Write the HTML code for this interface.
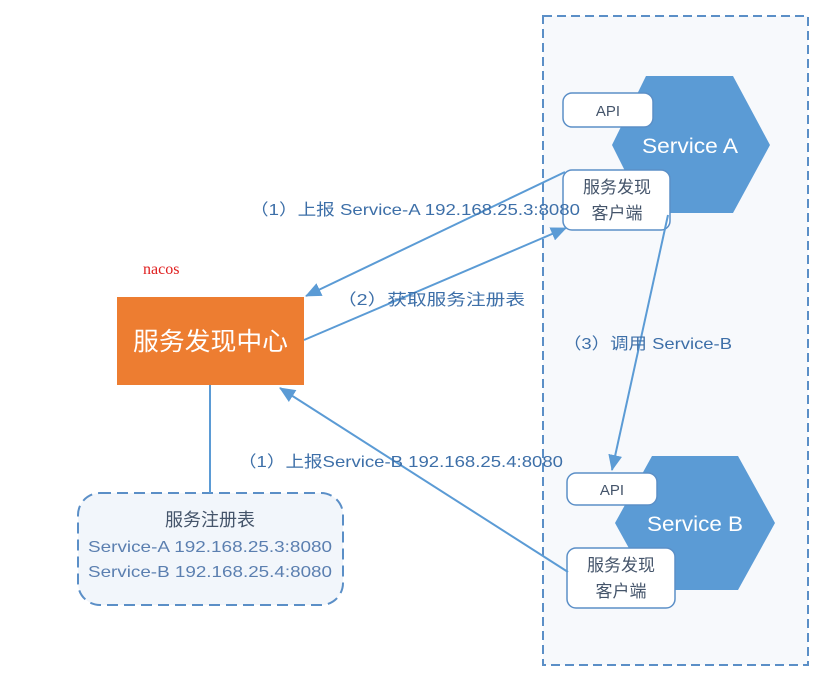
<!DOCTYPE html>
<html><head><meta charset="utf-8"><style>body{margin:0;background:#fff}svg{display:block}text{font-family:"Liberation Sans","Noto Sans CJK SC",sans-serif}</style></head><body>
<svg width="827" height="697" viewBox="0 0 827 697" xmlns="http://www.w3.org/2000/svg">
<defs>
<marker id="a2" markerWidth="16" markerHeight="14" refX="15" refY="7" orient="auto" markerUnits="userSpaceOnUse" viewBox="0 0 16 14"><path d="M0,0 L16,7 L0,14 z" fill="#5b9bd5"/></marker>
</defs>
<rect x="543" y="16" width="265" height="649" fill="#f7f9fc" stroke="#5b8fc7" stroke-width="2" stroke-dasharray="9,5"/>
<polygon points="612,145 646,76 733,76 770,145 733,213 646,213" fill="#5b9bd5"/>
<text x="642" y="153" font-size="21" fill="#fff" textLength="96" lengthAdjust="spacingAndGlyphs">Service A</text>
<rect x="563" y="93" width="90" height="34" rx="9" fill="#fff" stroke="#5b8fc7" stroke-width="1.5"/>
<text x="608" y="116" font-size="15" fill="#44546a" text-anchor="middle">API</text>
<rect x="563" y="170" width="107" height="60" rx="9" fill="#fff" stroke="#5b8fc7" stroke-width="1.5"/>
<text x="617" y="193" font-size="17" fill="#44546a" text-anchor="middle">服务发现</text>
<text x="617" y="219" font-size="17" fill="#44546a" text-anchor="middle">客户端</text>
<polygon points="615,523 652,456 738,456 775,523 738,590 652,590" fill="#5b9bd5"/>
<text x="647" y="531" font-size="21" fill="#fff" textLength="96" lengthAdjust="spacingAndGlyphs">Service B</text>
<rect x="567" y="473" width="90" height="32" rx="9" fill="#fff" stroke="#5b8fc7" stroke-width="1.5"/>
<text x="612" y="495" font-size="15" fill="#44546a" text-anchor="middle">API</text>
<rect x="567" y="548" width="108" height="60" rx="9" fill="#fff" stroke="#5b8fc7" stroke-width="1.5"/>
<text x="621" y="571" font-size="17" fill="#44546a" text-anchor="middle">服务发现</text>
<text x="621" y="597" font-size="17" fill="#44546a" text-anchor="middle">客户端</text>
<rect x="117" y="297" width="187" height="88" fill="#ed7d31"/>
<text x="133" y="350" font-size="25" fill="#fff" textLength="155" lengthAdjust="spacingAndGlyphs">服务发现中心</text>
<text x="143" y="274" font-size="16" fill="#e02020" style="font-family:'Liberation Serif',serif">nacos</text>
<rect x="78" y="493" width="265" height="112" rx="22" fill="#f2f6fb" stroke="#5b8fc7" stroke-width="2" stroke-dasharray="11,6"/>
<text x="210" y="526" font-size="18" fill="#44546a" text-anchor="middle">服务注册表</text>
<text x="88" y="552" font-size="16" fill="#5b7fb0" textLength="244" lengthAdjust="spacingAndGlyphs">Service-A 192.168.25.3:8080</text>
<text x="88" y="577" font-size="16" fill="#5b7fb0" textLength="244" lengthAdjust="spacingAndGlyphs">Service-B 192.168.25.4:8080</text>
<line x1="210" y1="385" x2="210" y2="493" stroke="#5b9bd5" stroke-width="2"/>
<line x1="565" y1="172" x2="306" y2="296" stroke="#5b9bd5" stroke-width="2" marker-end="url(#a2)"/>
<line x1="304" y1="340" x2="566" y2="228" stroke="#5b9bd5" stroke-width="2" marker-end="url(#a2)"/>
<line x1="668" y1="215" x2="612" y2="470" stroke="#5b9bd5" stroke-width="2" marker-end="url(#a2)"/>
<line x1="568" y1="572" x2="280" y2="388" stroke="#5b9bd5" stroke-width="2" marker-end="url(#a2)"/>
<text x="250" y="215" font-size="16" fill="#3d6fa8" textLength="330" lengthAdjust="spacingAndGlyphs">（1）上报 Service-A 192.168.25.3:8080</text>
<text x="337" y="305" font-size="16" fill="#3d6fa8" textLength="188" lengthAdjust="spacingAndGlyphs">（2）获取服务注册表</text>
<text x="563" y="349" font-size="16" fill="#3d6fa8" textLength="169" lengthAdjust="spacingAndGlyphs">（3）调用 Service-B</text>
<text x="238" y="467" font-size="16" fill="#3d6fa8" textLength="325" lengthAdjust="spacingAndGlyphs">（1）上报Service-B 192.168.25.4:8080</text>
</svg>
</body></html>
